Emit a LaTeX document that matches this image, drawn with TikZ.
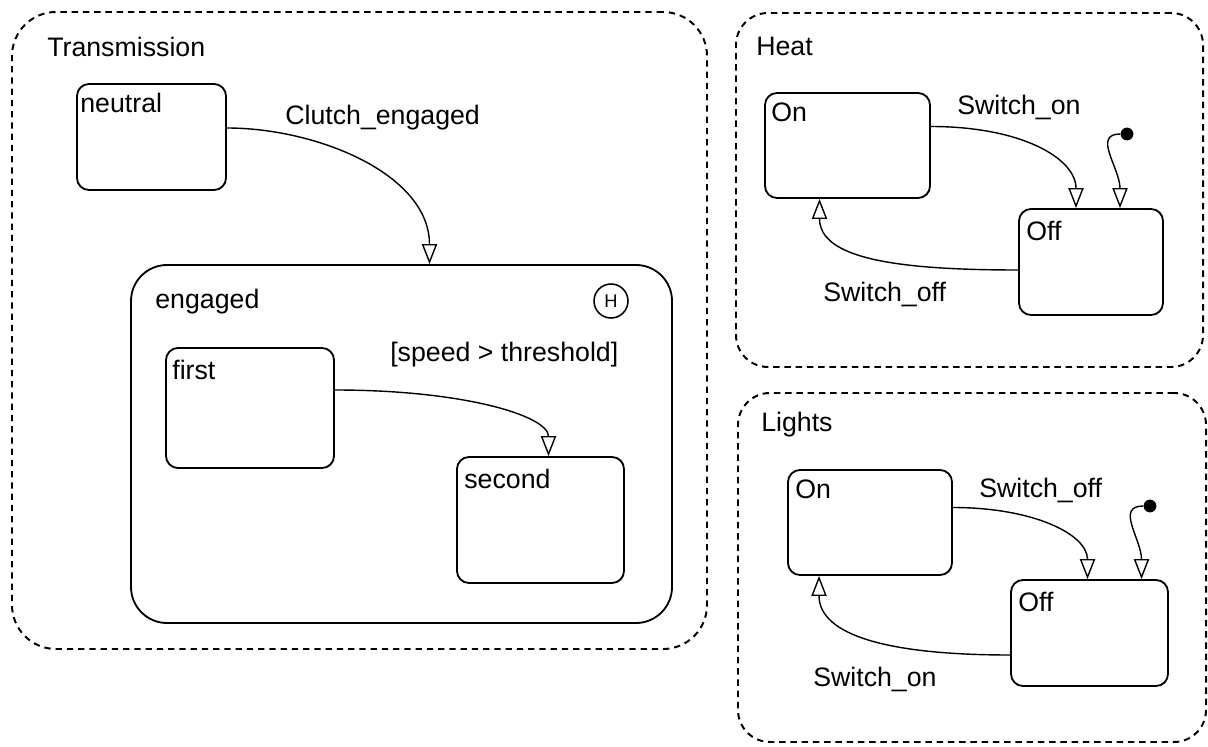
\documentclass[tikz,border=0pt]{standalone}
\usepackage{fontspec}
\setmainfont{Liberation Sans}
\usepackage{tikz}
\usetikzlibrary{arrows.meta,fit}

\tikzset{
  region/.style={draw, line width=1.4pt, dash pattern=on 4.5pt off 3.5pt, rounded corners=1.1cm, inner sep=0pt},
  subregion/.style={draw, line width=1.3pt, rounded corners=0.9cm, inner sep=0pt},
  state/.style={draw, line width=1.3pt, rounded corners=0.3cm, inner sep=0pt},
  tag/.style={anchor=north west, inner sep=0pt, font=\fontsize{19}{22}\selectfont},
  trans/.style={line width=1pt, -{Triangle[open, length=0.5cm, width=0.38cm, line width=1pt]}},
  initdot/.style={circle, fill=black, inner sep=0pt, minimum size=0.32cm}
}

\begin{document}
\begin{tikzpicture}[x=0.025cm, y=-0.025cm]
  \useasboundingbox (0,0) rectangle (1208,747);
  % outer regions
  \node [region, fit={(12,12) (707,649)}] (transmission) {};
  \node [region, rounded corners=0.8cm, fit={(736,13) (1203,367)}] (heat) {};
  \node [region, rounded corners=0.8cm, fit={(738,393) (1206,742)}] (lights) {};
  \node [tag] (transmissiontag) at ([shift={(36,26)}]transmission.north west) {Transmission};
  \node [tag] (heattag) at ([shift={(21,25)}]heat.north west) {Heat};
  \node [tag] (lightstag) at ([shift={(24,20)}]lights.north west) {Lights};

  % transmission
  \node [state, fit={(77,84) (226,190)}] (neutral) {};
  \node [subregion, fit={(131,265) (672,623)}] (engaged) {};
  \node [state, fit={(166,348) (334,468)}] (first) {};
  \node [state, fit={(457,457) (624,583)}] (second) {};
  \node [tag] (neutraltag) at ([shift={(4,10)}]neutral.north west) {neutral};
  \node [tag] (engagedtag) at ([shift={(25,25)}]engaged.north west) {engaged};
  \node [tag] (firsttag) at ([shift={(7,13)}]first.north west) {first};
  \node [tag] (secondtag) at ([shift={(8,13)}]second.north west) {second};
  \node [circle, draw, line width=1.1pt, minimum size=0.85cm, inner sep=0pt, font=\fontsize{13}{15}\selectfont] (history) at (611,301) {H};
  \node [tag] (clutchtag) at (285,105) {Clutch\_engaged};
  \node [tag] (speedtag) at (390,342) {[speed > threshold]};
  \draw [trans] ([shift={(0,-9)}]neutral.east) .. controls +(90,0) and +(0,-90) .. ([shift={(28,0)}]engaged.north);
  \draw [trans] ([shift={(0,-18)}]first.east) .. controls +(130,0) and +(0,-40) .. ([shift={(8,0)}]second.north);

  % heat
  \node [state, fit={(765,93) (930,198)}] (heaton) {};
  \node [state, fit={(1019,209) (1163,315)}] (heatoff) {};
  \node [tag] (heatontag) at ([shift={(7,10)}]heaton.north west) {On};
  \node [tag] (heatofftag) at ([shift={(8,13)}]heatoff.north west) {Off};
  \node [initdot] (heatinit) at (1127,134) {};
  \node [tag] (heatswon) at (957,95) {Switch\_on};
  \node [tag] (heatswoff) at (823,282) {Switch\_off};
  \draw [trans] ([shift={(0,-19)}]heaton.east) .. controls +(90,0) and +(0,-50) .. ([shift={(-15,0)}]heatoff.north);
  \draw [trans] (heatinit) .. controls +(-35,0) and +(0,-40) .. ([shift={(29,0)}]heatoff.north);
  \draw [trans] ([shift={(0,8)}]heatoff.west) .. controls +(-120,0) and +(0,60) .. ([shift={(-28,0)}]heaton.south);

  % lights
  \node [state, fit={(788,470) (952,575)}] (lightson) {};
  \node [state, fit={(1011,580) (1168,686)}] (lightsoff) {};
  \node [tag] (lightsontag) at ([shift={(8,10)}]lightson.north west) {On};
  \node [tag] (lightsofftag) at ([shift={(8,13)}]lightsoff.north west) {Off};
  \node [initdot] (lightsinit) at (1150,506) {};
  \node [tag] (lightsswoff) at (979,478) {Switch\_off};
  \node [tag] (lightsswon) at (813,667) {Switch\_on};
  \draw [trans] ([shift={(0,-15)}]lightson.east) .. controls +(80,0) and +(0,-45) .. ([shift={(-2,0)}]lightsoff.north);
  \draw [trans] (lightsinit) .. controls +(-35,0) and +(0,-40) .. ([shift={(52,0)}]lightsoff.north);
  \draw [trans] ([shift={(0,22)}]lightsoff.west) .. controls +(-120,0) and +(0,60) .. ([shift={(-51,0)}]lightson.south);
\end{tikzpicture}
\end{document}
